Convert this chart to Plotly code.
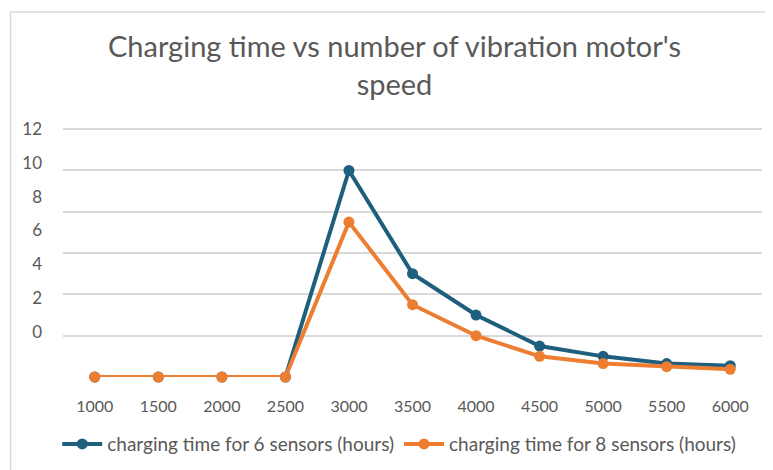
import plotly.graph_objects as go

speeds = ["1000", "1500", "2000", "2500", "3000", "3500", "4000", "4500", "5000", "5500", "6000"]
six_sensors = [0, 0, 0, 0, 10, 5, 3, 1.5, 1.0, 0.65, 0.55]
eight_sensors = [0, 0, 0, 0, 7.5, 3.5, 2, 1.0, 0.65, 0.5, 0.37]
y_ticks = [0, 2, 4, 6, 8, 10, 12]

BLUE = "#1F5F7E"
ORANGE = "#ED7D31"
TXT = "#595959"
FONT = "Lato"

fig = go.Figure()
fig.add_trace(go.Scatter(x=speeds, y=six_sensors, mode="lines+markers",
                         name="charging time for 6 sensors (hours)",
                         line=dict(color=BLUE, width=4), marker=dict(size=11, color=BLUE),
                         cliponaxis=False))
fig.add_trace(go.Scatter(x=speeds, y=eight_sensors, mode="lines+markers",
                         name="charging time for 8 sensors (hours)",
                         line=dict(color=ORANGE, width=4), marker=dict(size=11, color=ORANGE),
                         cliponaxis=False))
# invisible trace carrying the (offset) tick-label axis
fig.add_trace(go.Scatter(x=[speeds[0]], y=[0], yaxis="y2", mode="markers",
                         marker=dict(opacity=0), showlegend=False, hoverinfo="skip"))

fig.update_layout(
    width=773, height=470,
    paper_bgcolor="white", plot_bgcolor="white",
    margin=dict(l=55, r=19, t=116, b=101, autoexpand=False),
    font=dict(family=FONT, color=TXT),
    title=dict(text="Charging time vs number of vibration motor's<br>speed",
               x=0.5, xanchor="center", y=0.895, yanchor="top",
               font=dict(size=29, color=TXT, family=FONT)),
    xaxis=dict(type="category", range=[-0.5, len(speeds) - 0.5], showgrid=False,
               showline=False, zeroline=False,
               ticks="", tickfont=dict(size=16, color=TXT), ticklabelstandoff=18),
    yaxis=dict(range=[0, 12.25], tickvals=y_ticks, showticklabels=False,
               showgrid=True, gridcolor="#D9D9D9", gridwidth=1.5, zeroline=False),
    yaxis2=dict(range=[-2.66, 12.30], tickvals=y_ticks, overlaying="y", side="left",
                showgrid=False, zeroline=False, showline=False,
                tickfont=dict(size=17, color=TXT), ticklabelstandoff=20),
    legend=dict(orientation="h", x=0.481, xanchor="center", y=-0.19, yanchor="top",
                font=dict(size=19, color=TXT), itemwidth=40),
    shapes=[dict(type="rect", xref="paper", yref="paper", x0=-0.075, x1=1.06,
                 y0=-0.45, y1=1.443, line=dict(color="#D9D9D9", width=1.5))],
)

fig.write_html("out.html")
